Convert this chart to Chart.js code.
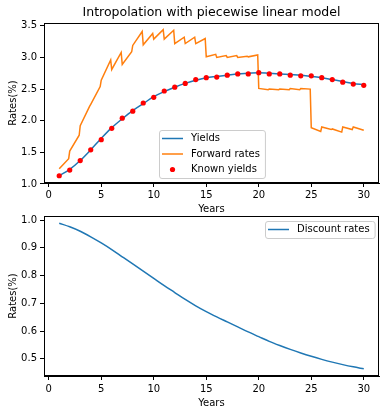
<!DOCTYPE html>
<html><head><meta charset="utf-8">
<script src="https://cdn.jsdelivr.net/npm/chart.js@4/dist/chart.umd.min.js"></script>
<style>
html,body{margin:0;padding:0;background:#fff;}
#wrap{position:relative;width:386px;height:414px;overflow:hidden;background:#fff;}
#c1wrap{position:absolute;left:0;top:0;width:386px;height:220px;}
#c2wrap{position:absolute;left:0;top:200px;width:386px;height:214px;}
</style></head><body>
<div id="wrap"><div id="c2wrap"><canvas id="c2"></canvas></div><div id="c1wrap"><canvas id="c1"></canvas></div></div>
<script>
// ---- data ----
const years = [1,2,3,4,5,6,7,8,9,10,11,12,13,14,15,16,17,18,19,20,21,22,23,24,25,26,27,28,29,30];
const knownYields = [1.13,1.22,1.37,1.54,1.70,1.88,2.04,2.15,2.28,2.37,2.47,2.53,2.59,2.65,2.68,2.69,2.72,2.74,2.74,2.76,2.74,2.74,2.72,2.71,2.71,2.68,2.65,2.61,2.58,2.56];
const yieldsCurve = [1.13,1.23,1.37,1.54,1.72,1.89,2.03,2.16,2.27,2.38,2.46,2.53,2.59,2.64,2.68,2.70,2.72,2.74,2.75,2.76,2.75,2.74,2.73,2.72,2.70,2.68,2.65,2.62,2.59,2.57];
const forwardYears = [1,1.9,2,2.9,3,3.9,4,4.9,5,5.9,6,6.9,7,7.9,8,8.9,9,9.9,10,10.9,11,11.9,12,12.9,13,13.9,14,14.9,15,15.9,16,16.9,17,17.9,18,18.9,19,19.9,20,20.9,21,21.9,22,22.9,23,23.9,24,24.9,25,25.9,26,26.9,27,27.9,28,28.9,29,30];
const forwardRates = [1.24,1.40, 1.52,1.77, 1.92,2.23, 2.26,2.54, 2.64,2.96, 2.81,3.08, 2.89,3.09, 3.19,3.41, 3.20,3.38, 3.29,3.44, 3.29,3.43, 3.22,3.32, 3.22,3.32, 3.22,3.30, 3.01,3.05, 3.00,3.03, 3.00,3.03, 3.00,3.02, 3.01,3.04, 2.51,2.49, 2.50,2.49, 2.50,2.49, 2.51,2.49, 2.51,2.50, 1.89,1.83, 1.90,1.86, 1.87,1.82, 1.90,1.86, 1.90,1.85];
const discountRates = [0.989,0.976,0.960,0.940,0.918,0.894,0.868,0.842,0.816,0.790,0.764,0.739,0.714,0.691,0.670,0.651,0.633,0.615,0.597,0.580,0.563,0.548,0.534,0.521,0.509,0.498,0.488,0.479,0.471,0.464];
const xTicks = [0,5,10,15,20,25,30];
const yTicksTop = [1.0,1.5,2.0,2.5,3.0,3.5];
const yTicksBottom = [0.5,0.6,0.7,0.8,0.9,1.0];

const FONT = 'DejaVu Sans';
const BLUE = '#1f77b4', ORANGE = '#ff7f0e', RED = '#ff0000';
const pts = (xs, ys) => xs.map((x, i) => ({x, y: ys[i]}));

const spines = {
  id: 'spines',
  afterDatasetsDraw(chart) {
    const {ctx, chartArea: a} = chart;
    ctx.save();
    ctx.strokeStyle = '#000'; ctx.lineWidth = 1;
    ctx.strokeRect(Math.round(a.left) + 0.5, Math.round(a.top) + 0.5, Math.round(a.right - a.left) - 1, Math.round(a.bottom - a.top) - 1);
    ctx.restore();
  }
};
const mplLegend = {
  id: 'mplLegend',
  afterDatasetsDraw(chart, args, opts) {
    if (!opts || !opts.show) return;
    const {ctx, chartArea: a} = chart;
    const items = chart.data.datasets.map(d => ({label: d.label, dot: d.showLine === false, color: d.showLine === false ? d.pointBackgroundColor : d.borderColor}));
    ctx.save();
    ctx.font = '10px "' + FONT + '"';
    const tw = Math.max(...items.map(i => ctx.measureText(i.label).width));
    const rowH = 15.5;
    const w = 32 + tw + 5, h = 17 + rowH * (items.length - 1);
    const x = Math.round(opts.right ? a.right - opts.dx - w : a.left + opts.dx);
    const y = Math.round(a.top + opts.dy);
    ctx.beginPath();
    ctx.roundRect(x + 0.5, y + 0.5, w, h, 2.5);
    ctx.fillStyle = 'rgba(255,255,255,0.8)'; ctx.fill();
    ctx.strokeStyle = '#cccccc'; ctx.lineWidth = 1; ctx.stroke();
    items.forEach((it, i) => {
      const cy = y + 8.5 + i * rowH;
      if (!it.dot) {
        ctx.beginPath(); ctx.moveTo(x + 3, cy); ctx.lineTo(x + 24, cy);
        ctx.strokeStyle = it.color; ctx.lineWidth = 1.5; ctx.stroke();
      } else {
        ctx.beginPath(); ctx.arc(x + 13.5, cy, 2.6, 0, Math.PI * 2);
        ctx.fillStyle = it.color; ctx.fill();
      }
      ctx.fillStyle = '#000'; ctx.textBaseline = 'middle'; ctx.textAlign = 'left';
      ctx.fillText(it.label, x + 32, cy);
    });
    ctx.restore();
  }
};

function xScale(h, pad) {
  return {
    type: 'linear', min: -0.45, max: 31.45,
    afterBuildTicks: s => { s.ticks = xTicks.map(v => ({value: v})); },
    afterFit: s => { s.height = h; },
    ticks: {font: {family: FONT, size: 10}, color: '#000', padding: pad, maxRotation: 0, autoSkip: false, callback: v => String(v)},
    grid: {drawOnChartArea: false, tickLength: 4, color: '#000'},
    border: {color: '#000'},
    title: {display: true, text: 'Years', font: {family: FONT, size: 10}, color: '#000', padding: {top: 0, bottom: 5}}
  };
}
function yScale(min, max, ticks) {
  return {
    type: 'linear', min, max,
    afterBuildTicks: s => { s.ticks = ticks.map(v => ({value: v})); },
    afterFit: s => { s.width = 44; },
    ticks: {font: {family: FONT, size: 10}, color: '#000', padding: 3, callback: v => Number(v).toFixed(1)},
    grid: {drawOnChartArea: false, tickLength: 4, color: '#000'},
    border: {color: '#000'},
    title: {display: true, text: 'Rates(%)', font: {family: FONT, size: 10}, color: '#000', padding: {top: 7, bottom: 0}}
  };
}

new Chart(document.getElementById('c1'), {
  type: 'line',
  data: {datasets: [
    {label: 'Yields', data: pts(years, yieldsCurve), borderColor: BLUE, borderWidth: 1.5, pointRadius: 0, cubicInterpolationMode: 'monotone', order: 2},
    {label: 'Forward rates', data: pts(forwardYears, forwardRates), borderColor: ORANGE, borderWidth: 1.5, pointRadius: 0, tension: 0, order: 1},
    {label: 'Known yields', data: pts(years, knownYields), showLine: false, pointRadius: 2.6, pointBackgroundColor: RED, pointBorderWidth: 0, borderColor: RED, order: 0}
  ]},
  options: {
    responsive: true, maintainAspectRatio: false, animation: false, devicePixelRatio: 1,
    layout: {padding: {left: 0, right: 7, top: 0, bottom: 0}},
    scales: {x: xScale(37, 2), y: yScale(1.015, 3.545, yTicksTop)},
    plugins: {
      legend: {display: false}, tooltip: {enabled: false},
      title: {display: true, fullSize: false, text: 'Intropolation with piecewise linear model', color: '#000', font: {family: FONT, size: 12.5, weight: 'normal'}, padding: {top: 5, bottom: 3}},
      mplLegend: {show: true, right: false, dx: 115, dy: 107}
    }
  },
  plugins: [spines, mplLegend]
});

new Chart(document.getElementById('c2'), {
  type: 'line',
  data: {datasets: [
    {label: 'Discount rates', data: pts(years, discountRates), borderColor: BLUE, borderWidth: 1.5, pointRadius: 0, cubicInterpolationMode: 'monotone'}
  ]},
  options: {
    responsive: true, maintainAspectRatio: false, animation: false, devicePixelRatio: 1,
    layout: {padding: {left: 0, right: 7, top: 16, bottom: 0}},
    scales: {x: xScale(38, 3), y: yScale(0.438, 1.015, yTicksBottom)},
    plugins: {
      legend: {display: false}, tooltip: {enabled: false},
      mplLegend: {show: true, right: true, dx: 4, dy: 5}
    }
  },
  plugins: [spines, mplLegend]
});
</script>
</body></html>
